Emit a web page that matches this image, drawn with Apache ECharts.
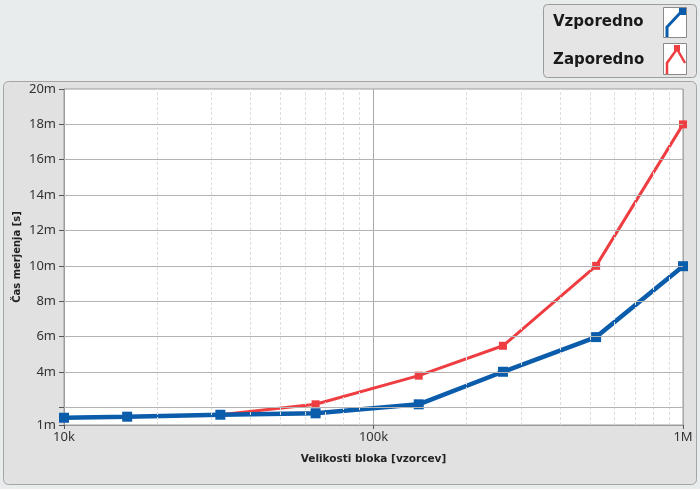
<!DOCTYPE html>
<html><head><meta charset="utf-8">
<script src="https://cdn.jsdelivr.net/npm/echarts@6/dist/echarts.min.js"></script>
<style>html,body{margin:0;padding:0;background:#e9ecec;}#c{width:700px;height:489px;}</style>
</head><body><div id="c"></div>
<script>
const blockSizes = [10000, 16000, 32000, 65000, 140000, 262000, 524000, 1000000];
const parallelTimes = [1.41, 1.47, 1.58, 1.66, 2.17, 4.01, 5.97, 9.98];
const serialTimes = [1.41, 1.47, 1.58, 2.17, 3.79, 5.48, 10.0, 18.0];
const seriesNames = ['Vzporedno', 'Zaporedno'];
const yTickValues = [1, 2, 4, 6, 8, 10, 12, 14, 16, 18, 20];
const yLabelValues = [1, 4, 6, 8, 10, 12, 14, 16, 18, 20];
const yGridValues = [2, 4, 6, 8, 10, 12, 14, 16, 18];
const xLabelMap = {10000: '10k', 100000: '100k', 1000000: '1M'};
const minorX = [];
[10000, 100000].forEach(d => { for (let k = 2; k <= 9; k++) minorX.push(d * k); });

const BLUE = '#0b5cab', RED = '#ef3e42';
const chart = echarts.init(document.getElementById('c'), null, {renderer: 'canvas'});
const pair = (xs, ys) => xs.map((x, i) => [x, ys[i]]);

chart.setOption({
  backgroundColor: '#e9ecec',
  animation: false,
  grid: {left: 64, right: 17, top: 89, bottom: 64, show: true, backgroundColor: '#ffffff', borderColor: '#9a9a9a', borderWidth: 1},
  xAxis: {
    type: 'log', logBase: 10, min: 10000, max: 1000000,
    name: 'Velikosti bloka [vzorcev]', nameLocation: 'middle', nameGap: 29,
    nameTextStyle: {fontFamily: 'DejaVu Sans', fontWeight: 'bold', fontSize: 10.5, color: '#222'},
    axisLine: {show: true, lineStyle: {color: '#9a9a9a'}},
    axisTick: {show: true, length: 4, lineStyle: {color: '#555'}},
    axisLabel: {fontFamily: 'Noto Sans', fontSize: 13, color: '#333', margin: 6, formatter: v => xLabelMap[Math.round(v)] || ''},
    splitLine: {show: true, lineStyle: {color: '#a8a8a8', width: 1}}
  },
  yAxis: {
    type: 'value', min: 1, max: 20,
    name: 'Čas merjenja [s]', nameLocation: 'middle', nameGap: 47, nameRotate: 90, nameMoveOverlap: false,
    nameTextStyle: {fontFamily: 'DejaVu Sans', fontWeight: 'bold', fontSize: 10, color: '#222', verticalAlign: 'middle'},
    axisLine: {show: true, lineStyle: {color: '#9a9a9a'}},
    axisTick: {show: true, length: 5, customValues: yTickValues, lineStyle: {color: '#555'}},
    axisLabel: {fontFamily: 'Noto Sans', fontSize: 13, color: '#333', margin: 8, customValues: yLabelValues, formatter: v => v + 'm'},
    splitLine: {show: false}
  },
  graphic: [
    {type: 'rect', shape: {x: 3.5, y: 81.5, width: 693, height: 403, r: 5}, style: {fill: '#e1e1e1', stroke: '#a5a5a5', lineWidth: 1}, z: -10, silent: true},
    {type: 'rect', shape: {x: 543.5, y: 4.5, width: 153, height: 73, r: 4}, style: {fill: '#e5e5e5', stroke: '#9c9c9c', lineWidth: 1}, z: 10, silent: true},
    {type: 'text', x: 553, y: 22, style: {text: seriesNames[0], font: 'bold 15px "DejaVu Sans"', fill: '#1a1a1a', textVerticalAlign: 'middle'}, z: 11},
    {type: 'text', x: 553, y: 60, style: {text: seriesNames[1], font: 'bold 15px "DejaVu Sans"', fill: '#1a1a1a', textVerticalAlign: 'middle'}, z: 11},
    {type: 'rect', shape: {x: 663.5, y: 7.5, width: 23, height: 30}, style: {fill: '#fff', stroke: '#8a8a8a'}, z: 11},
    {type: 'rect', shape: {x: 663.5, y: 43.5, width: 23, height: 31}, style: {fill: '#fff', stroke: '#8a8a8a'}, z: 11},
    {type: 'polyline', shape: {points: [[667, 37], [667, 27], [681, 12]]}, style: {stroke: BLUE, lineWidth: 3, fill: null}, z: 12},
    {type: 'rect', shape: {x: 679, y: 8, width: 7, height: 7}, style: {fill: BLUE}, z: 12},
    {type: 'polyline', shape: {points: [[667, 74], [667, 63], [677, 49], [685, 63]]}, style: {stroke: RED, lineWidth: 2.5, fill: null}, z: 12},
    {type: 'rect', shape: {x: 674, y: 45, width: 6, height: 6}, style: {fill: RED}, z: 12}
  ],
  series: [
    {
      type: 'line', data: [], z: 1, silent: true,
      markLine: {
        silent: true, symbol: 'none', label: {show: false}, animation: false,
        data: minorX.map(v => ({xAxis: v, lineStyle: {color: '#dedede', width: 1, type: [3, 2]}}))
          .concat(yGridValues.map(v => ({yAxis: v, lineStyle: {color: '#b3b3b3', width: 1, type: 'solid'}})))
      }
    },
    {
      name: seriesNames[1], type: 'line', z: 3, data: pair(blockSizes, serialTimes),
      symbol: 'rect', symbolSize: 8, showAllSymbol: true,
      lineStyle: {color: RED, width: 3}, itemStyle: {color: RED}
    },
    {
      name: seriesNames[0], type: 'line', z: 4, data: pair(blockSizes, parallelTimes),
      symbol: 'rect', symbolSize: 10, showAllSymbol: true,
      lineStyle: {color: BLUE, width: 4.5}, itemStyle: {color: BLUE}
    }
  ]
});
</script></body></html>
